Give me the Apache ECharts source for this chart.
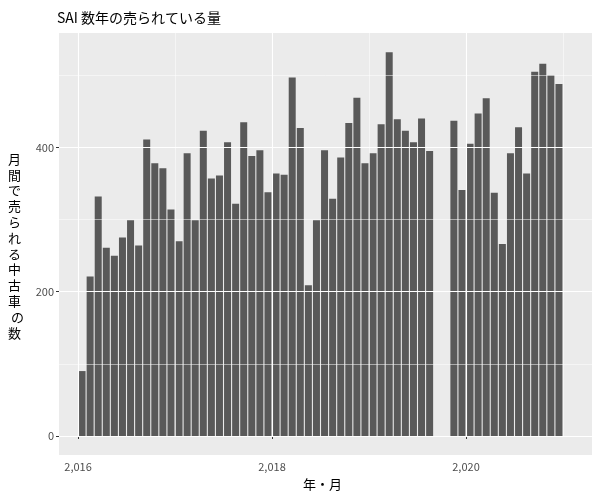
<!DOCTYPE html>
<html><head><meta charset="utf-8">
<script src="https://cdn.jsdelivr.net/npm/echarts@6/dist/echarts.min.js"></script>
<style>html,body{margin:0;padding:0;background:#fff}#c{width:600px;height:500px}</style>
</head><body><div id="c"></div>
<script>
const months = [];
for (let y = 2016; y <= 2020; y++) for (let m = 1; m <= 12; m++) months.push(y + '-' + String(m).padStart(2, '0'));
const sales = [90,221,332,261,250,275,299,264,411,378,371,314,
  270,392,299,423,357,361,407,322,435,388,396,338,
  364,362,497,427,209,299,396,329,386,434,469,378,
  392,432,532,439,423,407,440,395,null,null,437,341,
  405,447,468,337,266,392,428,364,505,516,500,488];
const xTicks = [2016, 2018, 2020];
const xGrid = [2016, 2017, 2018, 2019, 2020, 2021];
const yTicks = [0, 200, 400];
const yGrid = [0, 100, 200, 300, 400, 500];

const toYear = s => { const [y, m] = s.split('-').map(Number); return y + (m - 0.5) / 12; };
const data = months.map((mo, i) => [toYear(mo), sales[i]]).filter(d => d[1] !== null);

const font = 'Noto Sans CJK JP';
const chart = echarts.init(document.getElementById('c'));
const gridL = 59, gridR = 8, gridT = 33, gridB = 64;
const yLabelChars = ['月','間','で','売','ら','れ','る','中','古','車',' の','数'];
chart.setOption({
  animation: false,
  textStyle: { fontFamily: font },
  title: { text: 'SAI 数年の売られている量', left: 52, top: 6,
    textStyle: { fontFamily: font, fontSize: 14, fontWeight: 'normal', color: '#000' } },
  grid: { left: gridL, right: gridR, top: gridT, bottom: gridB, show: true, backgroundColor: '#EBEBEB', borderWidth: 0 },
  graphic: [
    { type: 'rect', shape: { x: gridL, y: 500 - gridB, width: 600 - gridL - gridR, height: 19 }, style: { fill: '#EBEBEB' }, z: -10 },
    { type: 'text', left: 8, top: 151, style: { text: yLabelChars.join('\n'), font: '13px "' + font + '"', fill: '#000', lineHeight: 15.8 } },
    { type: 'text', left: 303, top: 478, style: { text: '年・月', font: '13px "' + font + '"', fill: '#000' } }
  ],
  xAxis: {
    type: 'value', min: 2015.804, max: 2021.299,
    axisLine: { show: false },
    axisTick: { show: true, customValues: xTicks, length: 3, lineStyle: { color: '#333' } },
    axisLabel: { customValues: xTicks, color: '#4D4D4D', fontSize: 11, margin: 25, fontFamily: font },
    splitLine: { show: false }
  },
  yAxis: {
    type: 'value', min: 0, max: 558.6,
    axisLine: { show: false },
    axisTick: { show: true, customValues: yTicks, length: 3, lineStyle: { color: '#333' } },
    axisLabel: { customValues: yTicks, color: '#4D4D4D', fontSize: 11, margin: 5, fontFamily: font },
    splitLine: { show: false }
  },
  series: [
    { type: 'line', data: [], z: 1, silent: true,
      markLine: { symbol: 'none', silent: true, label: { show: false },
        data: [
          ...xGrid.map(v => ({ xAxis: v, lineStyle: { color: '#fff', width: v % 2 === 0 ? 1.1 : 0.5, type: 'solid' } })),
          ...yGrid.map(v => ({ yAxis: v, lineStyle: { color: '#fff', width: v % 200 === 0 ? 1.1 : 0.5, type: 'solid' } }))
        ] } },
    { type: 'bar', data: data, barWidth: 7, z: 2, itemStyle: { color: '#595959' } }
  ]
});
</script></body></html>
